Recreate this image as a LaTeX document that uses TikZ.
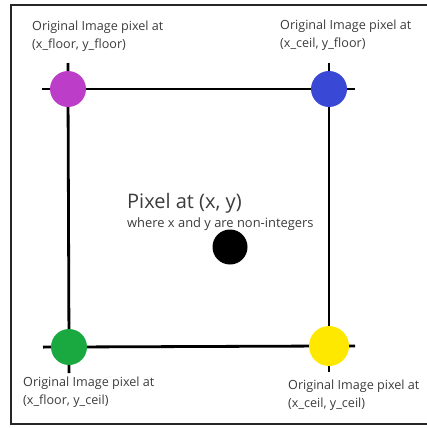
\documentclass[tikz,border=0pt]{standalone}
\usepackage{fontspec}
\setmainfont{Open Sans}
\usetikzlibrary{positioning,backgrounds}
\definecolor{pxmagenta}{RGB}{188,62,200}
\definecolor{pxblue}{RGB}{58,72,214}
\definecolor{pxgreen}{RGB}{26,168,64}
\definecolor{pxyellow}{RGB}{255,232,0}
\definecolor{pxtext}{RGB}{60,60,60}

\begin{document}
\begin{tikzpicture}[x=1pt, y=-1pt,
    corner/.style={circle, minimum size=36pt, inner sep=0pt},
    lbl/.style={align=left, font=\fontsize{12.6}{18}\selectfont, text=pxtext, inner sep=0pt, anchor=north west},
    grid/.style={line width=2.8pt, shorten <=-26pt, shorten >=-26pt}
]
\useasboundingbox (0,0) rectangle (426,428);
\draw[line width=2.4pt, black!85] (440,5) -- (11,5) -- (11,424) -- (440,424);

% corner pixels
\node[corner, fill=pxmagenta] (ff) at (68,89) {};
\node[corner, fill=pxblue] (cf) at (329,89) {};
\node[corner, fill=pxgreen] (fc) at (69,347) {};
\node[corner, fill=pxyellow, minimum size=40pt] (cc) at (329,346) {};
\node[circle, fill=black, minimum size=35pt, inner sep=0pt] (px) at (230,247) {};

\begin{scope}[on background layer]
\draw[grid] (ff.center) -- (cf.center);
\draw[grid] (cf.center) -- (cc.center);
\draw[grid] (cc.center) -- (fc.center);
\draw[grid] (fc.center) -- (ff.center);
\end{scope}

% labels
\node[lbl] (lff) at (32,21) {Original Image pixel at\\(x\_floor, y\_floor)};
\node[lbl] (lcf) at (280,20) {Original Image pixel at\\(x\_ceil, y\_floor)};
\node[lbl] (lfc) at (23,377) {Original Image pixel at\\(x\_floor, y\_ceil)};
\node[lbl] (lcc) at (288,380) {Original Image pixel at\\(x\_ceil, y\_ceil)};

\node[lbl, font=\fontsize{20}{22}\selectfont, anchor=base west] (ttl) at (127,208) {Pixel at (x, y)};
\node[lbl, font=\fontsize{12.9}{14}\selectfont, anchor=base west] (sub) at ([yshift=-19pt]ttl.base west) {where x and y are non-integers};
\end{tikzpicture}
\end{document}
